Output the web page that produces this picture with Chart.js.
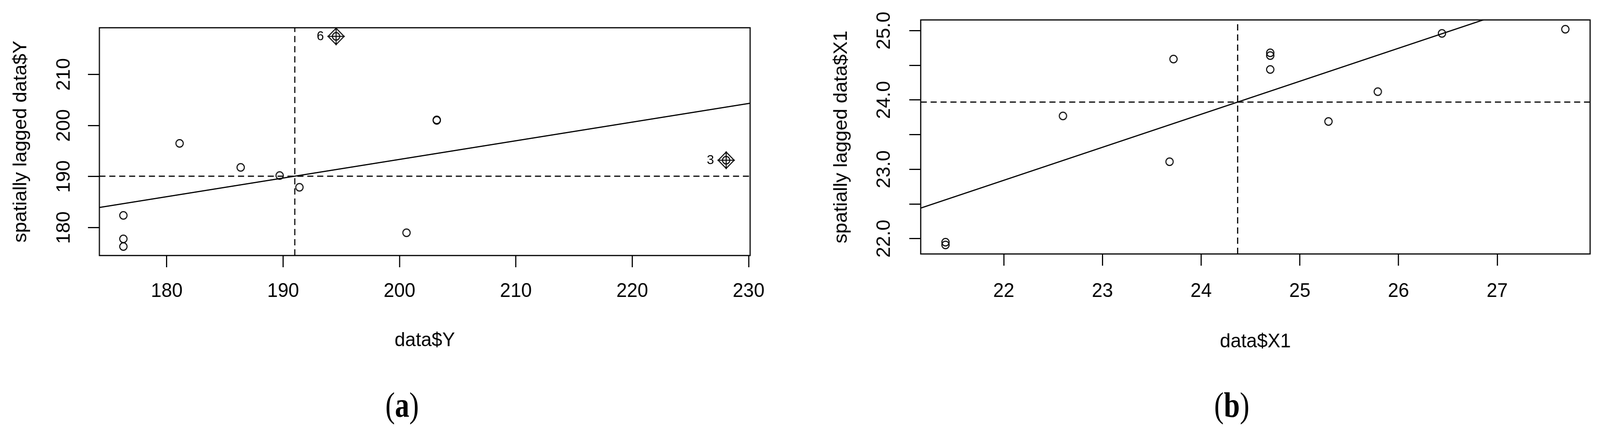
<!DOCTYPE html>
<html>
<head>
<meta charset="utf-8">
<script src="https://cdn.jsdelivr.net/npm/chart.js@4.4.1/dist/chart.umd.min.js"></script>
<style>
  html, body { margin: 0; padding: 0; background: #fff; overflow: hidden; }
  #page { position: relative; width: 4202px; height: 1098px; overflow: hidden; transform-origin: 0 0; }
  .panel { position: absolute; top: 0; width: 2101px; height: 1098px; }
  .tag { position: absolute; width: 300px; text-align: center; font-family: "Liberation Serif", "Times New Roman", serif;
         font-size: 90px; line-height: 90px; color: #000; transform: scaleX(0.84); }
</style>
</head>
<body>
<div id="page">
  <div class="panel" style="left:0"><canvas id="chartA" width="2101" height="1098"></canvas></div>
  <div class="panel" style="left:2101px"><canvas id="chartB" width="2101" height="1098"></canvas></div>
  <div class="tag" style="left:906px; top:992px">(<b>a</b>)</div>
  <div class="tag" style="left:3085px; top:992px">(<b>b</b>)</div>
</div>
<script>
// panel (a): data$Y vs spatially lagged data$Y
var xA = [176.27, 176.27, 176.27, 181.1, 186.35, 189.7, 191.4, 194.55, 200.6, 203.2, 203.2, 228.07]
var yA = [182.4, 177.8, 176.3, 196.5, 191.8, 190.2, 187.9, 217.45, 179.0, 201.0, 201.1, 193.2]
var inflXA = [194.55, 228.07]
var inflYA = [217.45, 193.2]
var inflLabelsA = ['6', '3']
var xRangeA = [174.21, 230.13]
var yRangeA = [174.54, 219.14]
var xTicksA = [180, 190, 200, 210, 220, 230]
var yTicksA = [180, 190, 200, 210]
var meanXA = 191.0
var meanYA = 190.07
var slopeA = 0.365

// panel (b): data$X1 vs spatially lagged data$X1
var xB = [21.41, 21.41, 22.6, 23.68, 23.72, 24.70, 24.70, 24.70, 25.29, 25.79, 26.44, 27.69]
var yB = [21.91, 21.95, 23.77, 23.11, 24.59, 24.68, 24.64, 24.44, 23.69, 24.12, 24.96, 25.02]
var xRangeB = [21.159, 27.941]
var yRangeB = [21.78, 25.154]
var xTicksB = [22, 23, 24, 25, 26, 27]
var yTicksB = [22, 22.5, 23, 23.5, 24, 24.5, 25]
var meanXB = 24.37
var meanYB = 23.97
var slopeB = 0.476

var FONT = '"Liberation Sans", Arial, sans-serif'

// the window may not be exactly 4202x1098, so fit the page into it
var page = document.getElementById('page')
page.style.transform = 'scale(' + (window.innerWidth / 4202) + ',' + (window.innerHeight / 1098) + ')'

function circleStyle() {
    var c = document.createElement('canvas')
    c.width = 26; c.height = 26
    var g = c.getContext('2d')
    g.lineWidth = 2.6
    g.strokeStyle = '#000'
    g.beginPath()
    g.arc(13, 13, 9.6, 0, Math.PI * 2)
    g.stroke()
    return c
}

function diamondStyle() {
    var c = document.createElement('canvas')
    c.width = 48; c.height = 48
    var g = c.getContext('2d')
    g.lineWidth = 2.6
    g.strokeStyle = '#000'
    g.beginPath()
    g.moveTo(24, 3); g.lineTo(45, 24); g.lineTo(24, 45); g.lineTo(3, 24); g.closePath()
    g.moveTo(24, 1); g.lineTo(24, 47)
    g.moveTo(1, 24); g.lineTo(47, 24)
    g.stroke()
    return c
}

var circ = circleStyle()
var diam = diamondStyle()

function pts(xs, ys) {
    return xs.map(function (x, i) { return {x: x, y: ys[i]} })
}

var boxPlugin = {
    id: 'box',
    afterDraw: function (chart) {
        var a = chart.chartArea, ctx = chart.ctx
        ctx.save()
        ctx.lineWidth = 3
        ctx.strokeStyle = '#000'
        ctx.strokeRect(a.left, a.top, a.right - a.left, a.bottom - a.top)
        // labels beside influential points
        var opts = chart.options.plugins.box
        if (opts && opts.labels) {
            ctx.font = '34px ' + FONT
            ctx.fillStyle = '#000'
            ctx.textAlign = 'right'
            ctx.textBaseline = 'middle'
            opts.labels.forEach(function (t, i) {
                var px = chart.scales.x.getPixelForValue(opts.xs[i])
                var py = chart.scales.y.getPixelForValue(opts.ys[i])
                ctx.fillText(t, px - 32, py + 1)
            })
        }
        ctx.restore()
    }
}

function makePanel(id, p) {
    var datasets = [
        {data: pts(p.xs, p.ys), pointStyle: circ, pointRadius: 12, showLine: false, clip: false},
        {data: p.infl ? pts(p.infl.xs, p.infl.ys) : [], pointStyle: diam, pointRadius: 24, showLine: false, clip: false},
        {data: [{x: p.xRange[0], y: p.meanY + p.slope * (p.xRange[0] - p.meanX)},
                {x: p.xRange[1], y: p.meanY + p.slope * (p.xRange[1] - p.meanX)}],
         showLine: true, borderColor: '#000', borderWidth: 3, pointRadius: 0},
        {data: [{x: p.meanX, y: p.yRange[0]}, {x: p.meanX, y: p.yRange[1]}],
         showLine: true, borderColor: '#000', borderWidth: 3, borderDash: [16, 10], pointRadius: 0},
        {data: [{x: p.xRange[0], y: p.meanY}, {x: p.xRange[1], y: p.meanY}],
         showLine: true, borderColor: '#000', borderWidth: 3, borderDash: [16, 10], pointRadius: 0}
    ]

    return new Chart(document.getElementById(id), {
        type: 'scatter',
        data: {datasets: datasets},
        options: {
            responsive: false,
            animation: false,
            events: [],
            layout: {padding: {left: 0, top: p.top, right: p.right, bottom: 0}},
            plugins: {
                legend: {display: false},
                tooltip: {enabled: false},
                box: p.infl ? {labels: p.infl.labels, xs: p.infl.xs, ys: p.infl.ys} : {}
            },
            scales: {
                x: {
                    type: 'linear',
                    min: p.xRange[0],
                    max: p.xRange[1],
                    afterBuildTicks: function (s) { s.ticks = p.xTicks.map(function (v) { return {value: v} }) },
                    afterFit: function (s) { s.height = p.xHeight; s.paddingLeft = 0; s.paddingRight = 0 },
                    grid: {drawOnChartArea: false, drawTicks: true, tickLength: 30, tickWidth: 3, tickColor: '#000'},
                    border: {display: false},
                    ticks: {autoSkip: false, maxRotation: 0, color: '#000', padding: p.xTickPad,
                            font: {family: FONT, size: 50}},
                    title: {display: true, text: p.xTitle, color: '#000', font: {family: FONT, size: 50},
                            padding: {top: 0, bottom: p.xTitleBottom}}
                },
                y: {
                    type: 'linear',
                    min: p.yRange[0],
                    max: p.yRange[1],
                    afterBuildTicks: function (s) { s.ticks = p.yTicks.map(function (v) { return {value: v} }) },
                    afterFit: function (s) { s.width = p.left; s.paddingTop = 0; s.paddingBottom = 0 },
                    grid: {drawOnChartArea: false, drawTicks: true, tickLength: 30, tickWidth: 3, tickColor: '#000'},
                    border: {display: false},
                    ticks: {autoSkip: false, minRotation: 90, maxRotation: 90, crossAlign: 'center',
                            color: '#000', padding: p.yTickPad, font: {family: FONT, size: 50},
                            callback: p.yLabel},
                    title: {display: true, text: p.yTitle, color: '#000', font: {family: FONT, size: 50},
                            padding: {top: p.yTitleTop, bottom: 0}}
                }
            }
        },
        plugins: [boxPlugin]
    })
}

makePanel('chartA', {
    xs: xA, ys: yA,
    infl: {xs: inflXA, ys: inflYA, labels: inflLabelsA},
    xRange: xRangeA, yRange: yRangeA, xTicks: xTicksA, yTicks: yTicksA,
    meanX: meanXA, meanY: meanYA, slope: slopeA,
    xTitle: 'data$Y', yTitle: 'spatially lagged data$Y',
    yLabel: function (v) { return String(v) },
    top: 71, right: 131, left: 261, xHeight: 444,
    xTickPad: 32, xTitleBottom: 196, yTickPad: 20, yTitleTop: 25
})

makePanel('chartB', {
    xs: xB, ys: yB,
    infl: null,
    xRange: xRangeB, yRange: yRangeB, xTicks: xTicksB, yTicks: yTicksB,
    meanX: meanXB, meanY: meanYB, slope: slopeB,
    xTitle: 'data$X1', yTitle: 'spatially lagged data$X1',
    yLabel: function (v) { return Number.isInteger(v) ? v.toFixed(1) : '' },
    top: 51, right: 26, left: 317, xHeight: 448,
    xTickPad: 36, xTitleBottom: 193, yTickPad: 16, yTitleTop: 79
})
</script>
</body>
</html>
